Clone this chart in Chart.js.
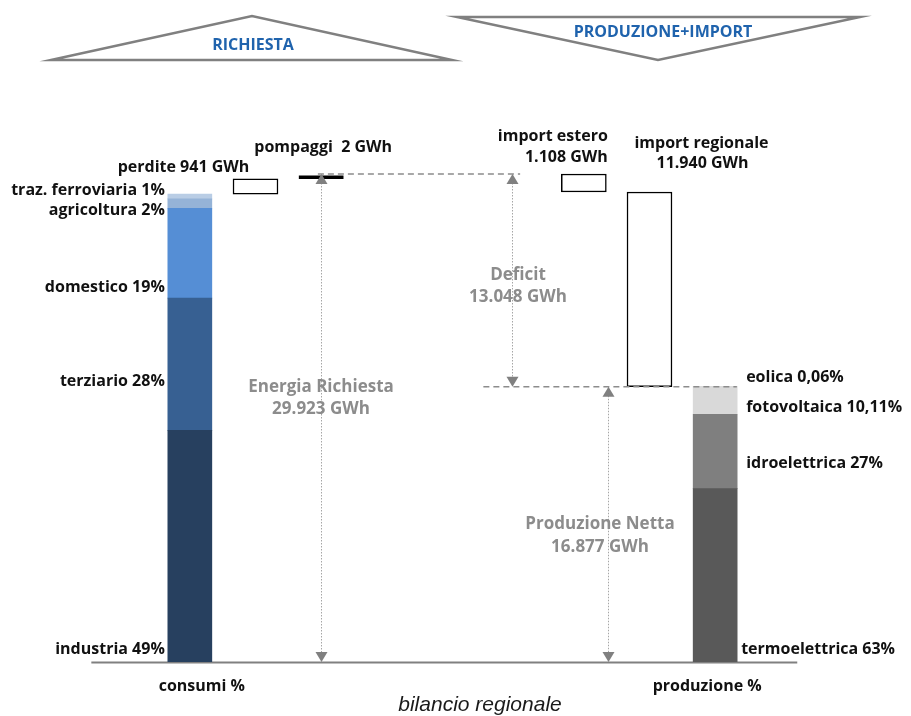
<!DOCTYPE html>
<html lang="it">
<head>
<meta charset="utf-8">
<title>Bilancio regionale</title>
<script src="https://cdn.jsdelivr.net/npm/chart.js@4.4.1/dist/chart.umd.min.js"></script>
<style>
  html, body { margin: 0; padding: 0; background: #fff; }
  #wrap { position: relative; width: 911px; height: 716px; }
</style>
</head>
<body>
<div id="wrap"><canvas id="bilancio"></canvas></div>
<script>
/* Bilancio elettrico regionale: richiesta (consumi + perdite + pompaggi)
   contro produzione netta + import. Valori in GWh, quote in %. */

const ENERGIA_RICHIESTA = 29923;
const PRODUZIONE_NETTA = 16877;
const DEFICIT = 13048;
const PERDITE = 941;
const POMPAGGI = 2;
const IMPORT_ESTERO = 1108;
const IMPORT_REGIONALE = 11940;

// colonne dell'asse x (una per barra, più due vuote in mezzo)
const colonne = ["consumi %", "perdite", "pompaggi", "", "", "deficit", "import estero", "import regionale", "produzione %"];

const consumiVoci = ["industria", "terziario", "domestico", "agricoltura", "traz. ferroviaria"];
const consumiPct = [49, 28, 19, 2, 1];
const consumiColori = ["#27405f", "#376092", "#558ed5", "#95b3d7", "#b9cde5"];

const produzioneVoci = ["termoelettrica", "idroelettrica", "fotovoltaica", "eolica"];
const produzionePct = [63, 27, 10.11, 0.06];
const produzioneColori = ["#595959", "#7f7f7f", "#d9d9d9", "#f2f2f2"];

const GRIGIO = "#8c8c8c";
const NERO = "#111";
const BLU = "#1f63ad";
const FONT = "'Open Sans', 'DejaVu Sans', sans-serif";

/* ------------------------------ helpers ----------------------------------- */
const gwh = (n) => String(Math.round(n)).replace(/\B(?=(\d{3})+(?!\d))/g, ".") + " GWh";
const pct = (p) => String(p).replace(".", ",") + "%";
const soloIn = (idx, v) => colonne.map((_, i) => (i === idx ? v : null));
const sum = (a) => a.reduce((s, v) => s + v, 0);

// consumi finali = richiesta al netto di perdite e pompaggi
const consumiTot = ENERGIA_RICHIESTA - PERDITE - POMPAGGI;
const consumiCima = consumiTot * sum(consumiPct) / 100;
const iCons = 0, iProd = colonne.length - 1;

/* ------------------------------ datasets ---------------------------------- */
const datasets = [];

consumiVoci.forEach((v, k) => datasets.push({
  label: v, data: soloIn(iCons, consumiTot * consumiPct[k] / 100),
  backgroundColor: consumiColori[k], borderWidth: 0, barThickness: 44,
}));

produzioneVoci.forEach((v, k) => datasets.push({
  label: v, data: soloIn(iProd, PRODUZIONE_NETTA * produzionePct[k] / 100),
  backgroundColor: produzioneColori[k], borderWidth: 0, barThickness: 44,
}));

// scatole a cascata: perdite sopra i consumi, import sopra la produzione
const impRegTop = PRODUZIONE_NETTA + IMPORT_REGIONALE;
const scatole = colonne.map(() => null);
scatole[1] = [consumiCima, consumiCima + PERDITE];
scatole[6] = [impRegTop, impRegTop + IMPORT_ESTERO];
scatole[7] = [PRODUZIONE_NETTA, impRegTop];
datasets.push({
  label: "scatole", data: scatole, backgroundColor: "#fff",
  borderColor: "#000", borderWidth: 1.5, borderSkipped: false, barThickness: 45,
});

datasets.push({
  label: "pompaggi", data: soloIn(2, [consumiCima + PERDITE, consumiCima + PERDITE + POMPAGGI]),
  backgroundColor: "#000", borderWidth: 0, minBarLength: 3, barThickness: 44,
});

/* ------------------------------ disegno extra ----------------------------- */
function freccia(ctx, x, y, su) {
  const w = 6, h = 10;
  ctx.beginPath();
  ctx.moveTo(x, y);
  ctx.lineTo(x - w, y + (su ? h : -h));
  ctx.lineTo(x + w, y + (su ? h : -h));
  ctx.closePath();
  ctx.fill();
}

function quota(ctx, x, y0, y1) {
  ctx.save();
  ctx.strokeStyle = "#a6a6a6";
  ctx.lineWidth = 1;
  ctx.setLineDash([1.5, 1.5]);
  ctx.beginPath();
  ctx.moveTo(x + 0.5, y0);
  ctx.lineTo(x + 0.5, y1);
  ctx.stroke();
  ctx.restore();
  ctx.fillStyle = "#808080";
  freccia(ctx, x + 0.5, Math.min(y0, y1), true);
  freccia(ctx, x + 0.5, Math.max(y0, y1), false);
}

function tratteggio(ctx, x0, x1, y) {
  ctx.save();
  ctx.strokeStyle = GRIGIO;
  ctx.lineWidth = 1.5;
  ctx.setLineDash([6, 4]);
  ctx.beginPath();
  ctx.moveTo(x0, y);
  ctx.lineTo(x1, y);
  ctx.stroke();
  ctx.restore();
}

function testo(ctx, s, x, y, align, color, font) {
  ctx.font = font || `bold 16px ${FONT}`;
  ctx.fillStyle = color || NERO;
  ctx.textAlign = align || "center";
  ctx.textBaseline = "middle";
  ctx.fillText(s, x, y);
}

const extra = {
  id: "extra",
  beforeDatasetsDraw(chart) {
    const { ctx, scales: { x, y } } = chart;
    // linea di base
    ctx.save();
    ctx.strokeStyle = "#808080";
    ctx.lineWidth = 2;
    ctx.beginPath();
    ctx.moveTo(x.getPixelForValue(-1.5), y.getPixelForValue(0) + 0.5);
    ctx.lineTo(x.getPixelForValue(9.25), y.getPixelForValue(0) + 0.5);
    ctx.stroke();
    ctx.restore();
  },
  afterDatasetsDraw(chart) {
    const { ctx, scales: { x, y } } = chart;
    const yER = y.getPixelForValue(ENERGIA_RICHIESTA);
    const yPN = y.getPixelForValue(PRODUZIONE_NETTA);
    const y0 = y.getPixelForValue(0);

    tratteggio(ctx, x.getPixelForValue(1.95), x.getPixelForValue(5.03), yER);
    tratteggio(ctx, x.getPixelForValue(4.47), x.getPixelForValue(8.33), yPN);

    const xER = Math.round(x.getPixelForValue(2));
    const xDef = Math.round(x.getPixelForValue(4.9));
    const xPN = Math.round(x.getPixelForValue(6.37));
    quota(ctx, xER, yER, y0);
    quota(ctx, xDef, yER, yPN);
    quota(ctx, xPN, yPN, y0);

    // etichette grigie delle quote
    const fG = `bold 17px ${FONT}`;
    testo(ctx, "Energia Richiesta", xER, 387, "center", GRIGIO, fG);
    testo(ctx, gwh(ENERGIA_RICHIESTA), xER, 409, "center", GRIGIO, fG);
    testo(ctx, "Deficit", xDef + 6, 275, "center", GRIGIO, fG);
    testo(ctx, gwh(DEFICIT), xDef + 6, 297, "center", GRIGIO, fG);
    testo(ctx, "Produzione Netta", xPN - 8, 524, "center", GRIGIO, fG);
    testo(ctx, gwh(PRODUZIONE_NETTA), xPN - 8, 547, "center", GRIGIO, fG);

    // voci dei consumi (a sinistra della barra)
    const xSx = x.getPixelForValue(iCons) - 25;
    const ySx = [649, 381, 287, 210, 190];
    consumiVoci.forEach((v, k) => testo(ctx, `${v} ${pct(consumiPct[k])}`, xSx, ySx[k], "right"));

    // voci della produzione (a destra della barra)
    const xDx = x.getPixelForValue(iProd) + 31;
    const yDx = [649, 463, 407, 377];
    produzioneVoci.forEach((v, k) =>
      testo(ctx, `${v} ${pct(produzionePct[k])}`, xDx - (k === 0 ? 5 : 0), yDx[k], "left"));

    // scatole
    testo(ctx, `perdite ${gwh(PERDITE)}`, x.getPixelForValue(1) - 72, 167);
    testo(ctx, `pompaggi  ${gwh(POMPAGGI)}`, x.getPixelForValue(2) + 2, 147);
    testo(ctx, "import estero", x.getPixelForValue(6) + 24, 136, "right");
    testo(ctx, gwh(IMPORT_ESTERO), x.getPixelForValue(6) + 24, 157, "right");
    testo(ctx, "import regionale", x.getPixelForValue(7) + 52, 143);
    testo(ctx, gwh(IMPORT_REGIONALE), x.getPixelForValue(7) + 53, 163);

    // piede
    testo(ctx, colonne[iCons], x.getPixelForValue(iCons) + 12, 686);
    testo(ctx, colonne[iProd], x.getPixelForValue(iProd) - 8, 686);
    testo(ctx, "bilancio regionale", 480, 705, "center", "#1a1a1a", "italic 21px 'Liberation Sans', Arial, sans-serif");

    // intestazioni a triangolo
    ctx.save();
    ctx.strokeStyle = "#808080";
    ctx.lineWidth = 2.5;
    ctx.lineJoin = "miter";
    ctx.beginPath();
    ctx.moveTo(51, 60); ctx.lineTo(252, 16); ctx.lineTo(452, 60); ctx.closePath();
    ctx.stroke();
    ctx.beginPath();
    ctx.moveTo(457, 17); ctx.lineTo(860, 17); ctx.lineTo(658, 60); ctx.closePath();
    ctx.stroke();
    ctx.restore();
    testo(ctx, "RICHIESTA", 253, 45, "center", BLU, `bold 16px ${FONT}`);
    testo(ctx, "PRODUZIONE+IMPORT", 663, 32, "center", BLU, `bold 16px ${FONT}`);
  },
};

new Chart(document.getElementById("bilancio"), {
  type: "bar",
  data: { labels: colonne, datasets },
  options: {
    responsive: true,
    maintainAspectRatio: false,
    animation: false,
    layout: { padding: { left: 157, right: 163, top: 107.5, bottom: 54 } },
    plugins: { legend: { display: false }, tooltip: { enabled: false }, title: { display: false } },
    scales: {
      x: { display: false, stacked: true },
      y: { display: false, stacked: true, min: 0, max: 34000 },
    },
  },
  plugins: [extra],
});
</script>
</body>
</html>
